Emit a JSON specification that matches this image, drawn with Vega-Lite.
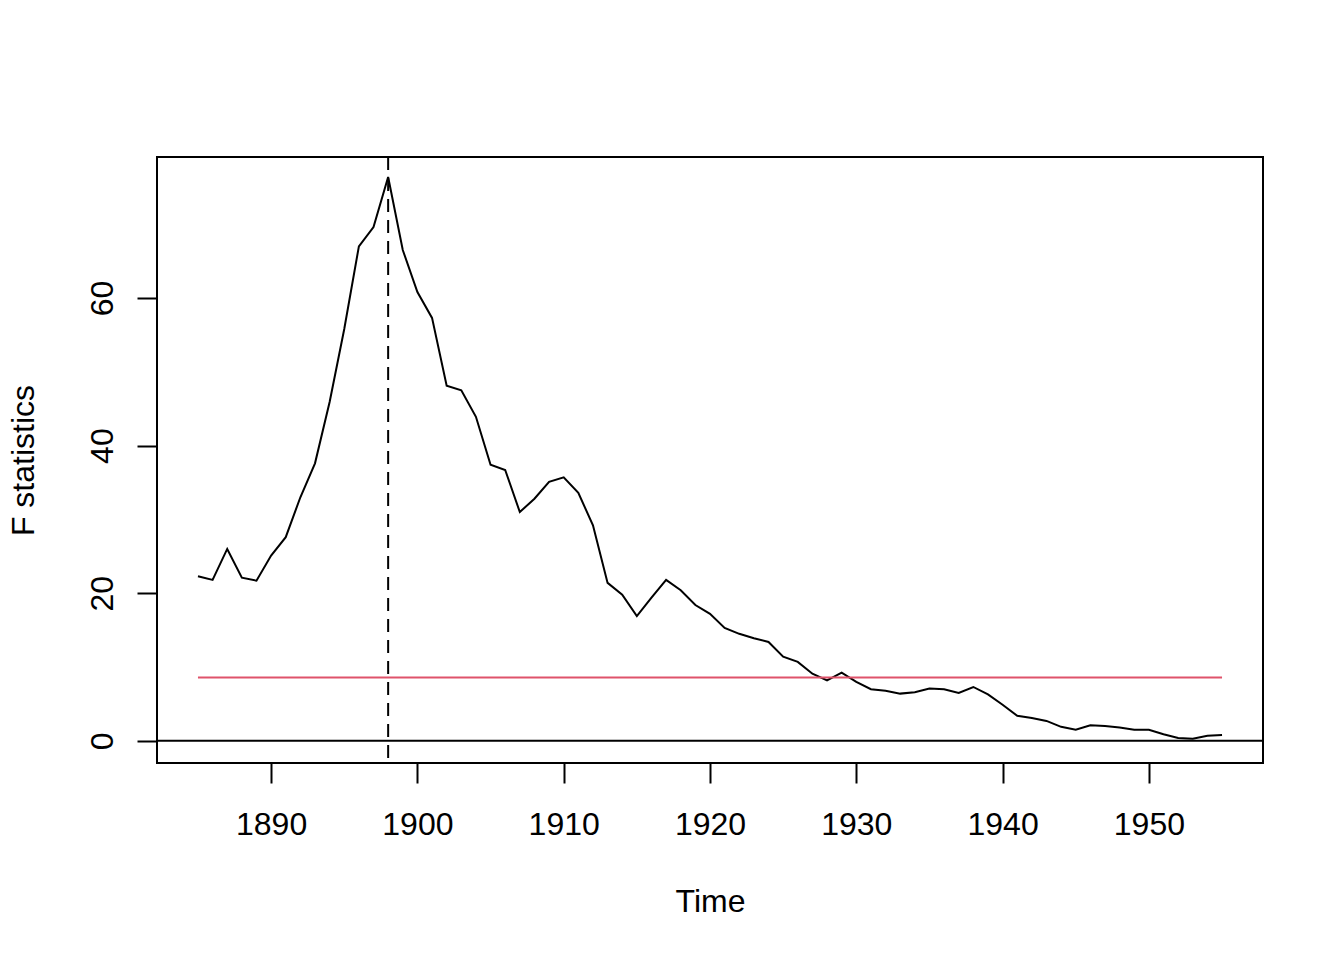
{
  "$schema": "https://vega.github.io/schema/vega-lite/v6.json",
  "autosize": "none",
  "padding": {"left": 157, "top": 157, "right": 81, "bottom": 197},
  "width": 1106,
  "height": 606,
  "background": "#FFFFFF",
  "config": {
    "view": {"stroke": "black", "strokeWidth": 2},
    "axis": {
      "grid": false,
      "domain": false,
      "tickColor": "black",
      "tickWidth": 2,
      "tickSize": 20,
      "labelColor": "black",
      "labelFont": "Liberation Sans",
      "labelFontSize": 32,
      "titleColor": "black",
      "titleFont": "Liberation Sans",
      "titleFontSize": 32,
      "titleFontWeight": "normal"
    }
  },
  "datasets": {
    "fstats": [
      {"year": 1885, "F": 22.3}, {"year": 1886, "F": 21.8}, {"year": 1887, "F": 26.0},
      {"year": 1888, "F": 22.1}, {"year": 1889, "F": 21.7}, {"year": 1890, "F": 25.1},
      {"year": 1891, "F": 27.6}, {"year": 1892, "F": 33.0}, {"year": 1893, "F": 37.6},
      {"year": 1894, "F": 45.9}, {"year": 1895, "F": 55.8}, {"year": 1896, "F": 67.0},
      {"year": 1897, "F": 69.6}, {"year": 1898, "F": 76.4}, {"year": 1899, "F": 66.5},
      {"year": 1900, "F": 60.8}, {"year": 1901, "F": 57.3}, {"year": 1902, "F": 48.1},
      {"year": 1903, "F": 47.5}, {"year": 1904, "F": 43.9}, {"year": 1905, "F": 37.4},
      {"year": 1906, "F": 36.7}, {"year": 1907, "F": 31.0}, {"year": 1908, "F": 32.8},
      {"year": 1909, "F": 35.1}, {"year": 1910, "F": 35.7}, {"year": 1911, "F": 33.6},
      {"year": 1912, "F": 29.2}, {"year": 1913, "F": 21.4}, {"year": 1914, "F": 19.8},
      {"year": 1915, "F": 16.9}, {"year": 1916, "F": 19.4}, {"year": 1917, "F": 21.8},
      {"year": 1918, "F": 20.4}, {"year": 1919, "F": 18.4}, {"year": 1920, "F": 17.2},
      {"year": 1921, "F": 15.3}, {"year": 1922, "F": 14.5}, {"year": 1923, "F": 13.9},
      {"year": 1924, "F": 13.4}, {"year": 1925, "F": 11.4}, {"year": 1926, "F": 10.7},
      {"year": 1927, "F": 9.1}, {"year": 1928, "F": 8.2}, {"year": 1929, "F": 9.25},
      {"year": 1930, "F": 8.0}, {"year": 1931, "F": 7.0}, {"year": 1932, "F": 6.8},
      {"year": 1933, "F": 6.4}, {"year": 1934, "F": 6.6}, {"year": 1935, "F": 7.1},
      {"year": 1936, "F": 7.0}, {"year": 1937, "F": 6.5}, {"year": 1938, "F": 7.3},
      {"year": 1939, "F": 6.3}, {"year": 1940, "F": 4.9}, {"year": 1941, "F": 3.4},
      {"year": 1942, "F": 3.1}, {"year": 1943, "F": 2.7}, {"year": 1944, "F": 1.9},
      {"year": 1945, "F": 1.5}, {"year": 1946, "F": 2.1}, {"year": 1947, "F": 2.0},
      {"year": 1948, "F": 1.8}, {"year": 1949, "F": 1.5}, {"year": 1950, "F": 1.5},
      {"year": 1951, "F": 0.9}, {"year": 1952, "F": 0.4}, {"year": 1953, "F": 0.3},
      {"year": 1954, "F": 0.7}, {"year": 1955, "F": 0.8}
    ]
  },
  "layer": [
    {
      "data": {"name": "fstats"},
      "mark": {"type": "line", "color": "black", "strokeWidth": 2, "clip": true},
      "encoding": {
        "x": {
          "field": "year",
          "type": "quantitative",
          "scale": {"domain": [1882.2, 1957.8], "nice": false, "zero": false},
          "axis": {
            "values": [1890, 1900, 1910, 1920, 1930, 1940, 1950],
            "format": "d",
            "title": "Time",
            "labelBaseline": "alphabetic",
            "labelPadding": 51,
            "labelFlush": false,
            "labelOverlap": false,
            "titleBaseline": "alphabetic",
            "titleY": 148
          }
        },
        "y": {
          "field": "F",
          "type": "quantitative",
          "scale": {"domain": [-3.0, 79.1], "nice": false, "zero": false},
          "axis": {
            "values": [0, 20, 40, 60],
            "title": "F statistics",
            "labelAngle": -90,
            "labelAlign": "center",
            "labelBaseline": "alphabetic",
            "labelPadding": 25,
            "labelFlush": false,
            "labelOverlap": false,
            "titleAngle": -90,
            "titleBaseline": "alphabetic",
            "titleX": -124
          }
        }
      }
    },
    {
      "data": {"values": [{"y": 0}]},
      "mark": {"type": "rule", "color": "black", "strokeWidth": 2},
      "encoding": {"y": {"field": "y", "type": "quantitative"}}
    },
    {
      "data": {"values": [{"start": 1885, "end": 1955, "boundary": 8.6}]},
      "mark": {"type": "rule", "color": "#DF536B", "strokeWidth": 2},
      "encoding": {
        "x": {"field": "start", "type": "quantitative"},
        "x2": {"field": "end"},
        "y": {"field": "boundary", "type": "quantitative"}
      }
    },
    {
      "data": {"values": [{"breakpoint": 1898}]},
      "mark": {"type": "rule", "color": "black", "strokeWidth": 2, "strokeDash": [13, 8]},
      "encoding": {"x": {"field": "breakpoint", "type": "quantitative"}}
    }
  ]
}
